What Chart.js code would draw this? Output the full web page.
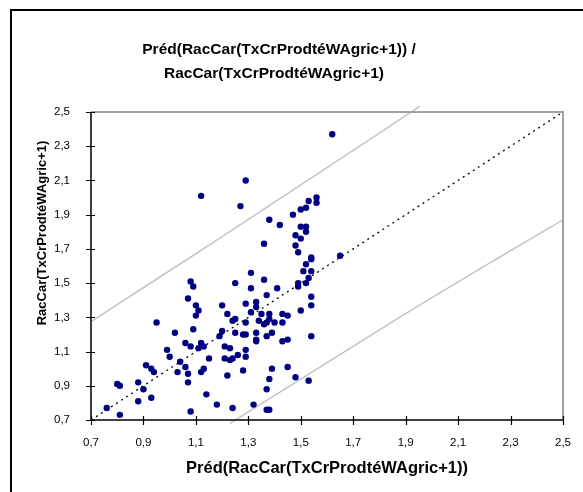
<!DOCTYPE html>
<html>
<head>
<meta charset="utf-8">
<script src="https://cdn.jsdelivr.net/npm/chart.js@4/dist/chart.umd.min.js"></script>
<style>
html,body{margin:0;padding:0;background:#fff;}
#wrap{position:relative;width:583px;height:492px;}
canvas{display:block;}
</style>
</head>
<body>
<div id="wrap"><canvas id="c" width="583" height="492"></canvas></div>
<script>
// ---- data ----
const titleLines = ["Préd(RacCar(TxCrProdtéWAgric+1)) /", "RacCar(TxCrProdtéWAgric+1)"];
const xTitle = "Préd(RacCar(TxCrProdtéWAgric+1))";
const yTitle = "RacCar(TxCrProdtéWAgric+1)";
const axisMin = 0.7, axisMax = 2.5, axisStep = 0.2;

const predX = [
1.12,1.62,1.29,1.27,1.53,1.56,1.56,1.52,1.50,1.47,1.38,1.42,1.50,1.52,1.52,1.48,1.50,1.36,1.48,1.49,
1.54,1.54,1.65,1.52,1.51,1.54,1.53,1.52,1.49,1.49,1.31,1.36,1.25,1.31,1.41,1.37,1.54,1.33,1.29,1.54,
1.20,1.33,1.31,1.35,1.38,1.50,1.43,1.45,1.22,1.25,1.24,1.29,1.34,1.38,1.36,1.40,1.43,1.37,1.20,1.25,
1.28,1.29,1.33,1.39,1.33,1.33,1.37,1.43,1.45,1.54,1.21,1.23,1.29,1.26,1.29,1.21,1.24,1.23,1.39,1.45,
1.28,1.38,1.22,1.48,1.53,1.37,1.24,1.32,1.37,1.38,1.08,1.09,1.07,1.10,1.11,1.10,1.09,0.95,1.02,1.19,
1.06,1.08,1.12,1.13,1.11,0.99,1.00,1.15,1.04,1.06,1.03,1.13,1.12,1.07,1.07,0.91,0.93,0.94,0.88,0.80,
0.81,0.90,0.88,0.93,0.76,0.81,1.08,1.14,1.18
];
const obsY = [
2.01,2.37,2.10,1.95,1.98,2.00,1.97,1.94,1.93,1.90,1.87,1.84,1.83,1.83,1.80,1.78,1.76,1.73,1.72,1.68,
1.65,1.64,1.66,1.61,1.57,1.57,1.53,1.50,1.50,1.48,1.56,1.52,1.50,1.47,1.47,1.43,1.42,1.39,1.38,1.37,
1.37,1.36,1.33,1.32,1.32,1.34,1.32,1.31,1.32,1.29,1.28,1.27,1.28,1.29,1.26,1.27,1.27,1.27,1.22,1.21,
1.20,1.20,1.21,1.21,1.17,1.16,1.19,1.16,1.17,1.19,1.13,1.12,1.11,1.08,1.07,1.06,1.06,1.05,1.00,1.01,
0.99,0.94,0.96,0.95,0.93,0.88,0.77,0.79,0.76,0.76,1.51,1.48,1.41,1.37,1.34,1.31,1.23,1.27,1.21,1.19,
1.15,1.13,1.15,1.13,1.12,1.11,1.07,1.06,1.04,1.01,0.98,1.00,0.98,0.97,0.92,1.02,1.00,0.98,0.92,0.91,
0.90,0.88,0.81,0.83,0.77,0.73,0.75,0.85,0.79
];
const diagX = [0.7, 2.5];
const diagY = [0.7, 2.5];
const upperX = [0.7, 1.19, 1.83, 1.955];
const upperY = [1.275, 1.762, 2.407, 2.535];
const lowerX = [1.23, 1.84, 2.24, 2.5];
const lowerY = [0.68, 1.265, 1.635, 1.87];

const FONT = '"Liberation Sans", Arial, sans-serif';
const pts = (xs, ys) => xs.map((x, i) => ({x: x, y: ys[i]}));
const fmt = v => (Math.round(v * 10) / 10).toFixed(1).replace('.', ',');

const decor = {
  id: 'decor',
  beforeDraw(chart) {
    const ctx = chart.ctx;
    ctx.save();
    ctx.fillStyle = '#fff';
    ctx.fillRect(0, 0, chart.width, chart.height);
    ctx.strokeStyle = '#000';
    ctx.lineWidth = 2;
    ctx.beginPath();
    ctx.moveTo(11, 492); ctx.lineTo(11, 10); ctx.lineTo(583, 10);
    ctx.stroke();
    ctx.restore();
  },
  afterDraw(chart) {
    const ctx = chart.ctx;
    const a = chart.chartArea;
    const xs = chart.scales.x, ys = chart.scales.y;
    ctx.save();
    ctx.strokeStyle = '#a0a0a0';
    ctx.lineWidth = 2;
    ctx.beginPath();
    ctx.moveTo(a.left, a.top); ctx.lineTo(a.right, a.top); ctx.lineTo(a.right, a.bottom);
    ctx.stroke();
    ctx.strokeStyle = '#000';
    ctx.lineWidth = 1.5;
    ctx.beginPath();
    ctx.moveTo(a.left, a.top); ctx.lineTo(a.left, a.bottom); ctx.lineTo(a.right, a.bottom);
    ctx.stroke();
    ctx.lineWidth = 1.2;
    ctx.beginPath();
    xs.ticks.forEach(t => {
      const p = Math.round(xs.getPixelForValue(t.value)) + 0.5;
      ctx.moveTo(p, a.bottom - 4); ctx.lineTo(p, a.bottom + 5);
    });
    ys.ticks.forEach(t => {
      const p = Math.round(ys.getPixelForValue(t.value)) + 0.5;
      ctx.moveTo(a.left - 5, p); ctx.lineTo(a.left + 4, p);
    });
    ctx.stroke();
    ctx.fillStyle = '#000';
    ctx.textAlign = 'center';
    ctx.textBaseline = 'alphabetic';
    ctx.font = 'bold 15.5px ' + FONT;
    ctx.fillText(titleLines[0], 279, 54);
    ctx.fillText(titleLines[1], 274, 78);
    ctx.font = 'bold 16.5px ' + FONT;
    ctx.fillText(xTitle, (a.left + a.right) / 2, 473);
    ctx.translate(46, 233);
    ctx.rotate(-Math.PI / 2);
    ctx.font = 'bold 13px ' + FONT;
    ctx.fillText(yTitle, 0, 0);
    ctx.restore();
  }
};

new Chart(document.getElementById('c'), {
  type: 'scatter',
  data: {
    datasets: [
      {
        label: 'obs',
        data: pts(predX, obsY),
        pointRadius: 3.2,
        pointHoverRadius: 3.2,
        backgroundColor: '#000080',
        borderColor: '#000080',
        borderWidth: 0,
        showLine: false
      },
      {
        label: 'diag',
        data: pts(diagX, diagY),
        showLine: true,
        pointRadius: 0,
        borderColor: '#000',
        borderWidth: 1.3,
        borderDash: [2, 4]
      },
      {
        label: 'upper',
        data: pts(upperX, upperY),
        showLine: true,
        pointRadius: 0,
        borderColor: '#c4c4c4',
        borderWidth: 1.5,
        tension: 0.3,
        clip: false
      },
      {
        label: 'lower',
        data: pts(lowerX, lowerY),
        showLine: true,
        pointRadius: 0,
        borderColor: '#c4c4c4',
        borderWidth: 1.5,
        tension: 0.3,
        clip: false
      }
    ]
  },
  options: {
    responsive: false,
    animation: false,
    devicePixelRatio: 1,
    layout: { padding: { left: 0, top: 112, right: 20, bottom: 0 } },
    plugins: { legend: { display: false }, tooltip: { enabled: false }, title: { display: false } },
    scales: {
      x: {
        type: 'linear',
        min: axisMin, max: axisMax,
        afterFit(s) { s.height = 72; },
        afterBuildTicks(s) {
          const t = [];
          for (let i = 0; i <= Math.round((axisMax - axisMin) / axisStep); i++) t.push({value: +(axisMin + i * axisStep).toFixed(2)});
          s.ticks = t;
        },
        grid: { display: false },
        border: { display: false },
        ticks: { color: '#000', font: { family: FONT, size: 11.5 }, padding: 8, maxRotation: 0, autoSkip: false, callback: v => fmt(v) }
      },
      y: {
        type: 'linear',
        min: axisMin, max: axisMax,
        afterFit(s) { s.width = 91; },
        afterBuildTicks(s) {
          const t = [];
          for (let i = 0; i <= Math.round((axisMax - axisMin) / axisStep); i++) t.push({value: +(axisMin + i * axisStep).toFixed(2)});
          s.ticks = t;
        },
        grid: { display: false },
        border: { display: false },
        ticks: { color: '#000', font: { family: FONT, size: 11.5 }, padding: 13, autoSkip: false, callback: v => fmt(v) }
      }
    }
  },
  plugins: [decor]
});
</script>
</body>
</html>
